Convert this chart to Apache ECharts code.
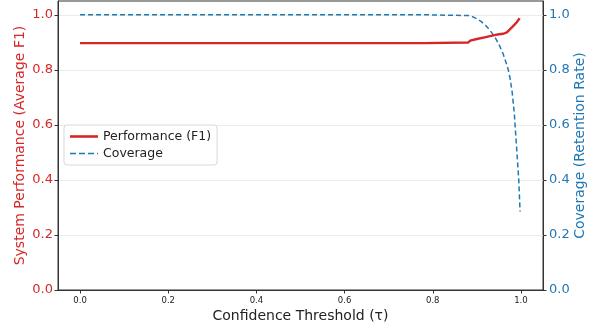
<!DOCTYPE html>
<html>
<head>
<meta charset="utf-8">
<script src="https://cdn.jsdelivr.net/npm/echarts@6/dist/echarts.min.js"></script>
<style>
  html, body { margin: 0; padding: 0; background: #fff; }
  #chart { width: 595px; height: 332px; }
</style>
</head>
<body>
<div id="chart"></div>
<script>
// Confidence thresholds and the two measured curves
const perfThreshold = [0.0, 0.78, 0.781, 0.88, 0.885, 0.9, 0.92, 0.94, 0.95, 0.96, 0.968, 0.98, 0.99, 0.997];
const perfF1        = [0.897, 0.897, 0.899, 0.899, 0.906, 0.912, 0.919, 0.926, 0.929, 0.931, 0.936, 0.955, 0.972, 0.987];

const covThreshold  = [0.0, 0.78, 0.781, 0.88, 0.89, 0.90, 0.91, 0.92, 0.93, 0.94, 0.95, 0.96, 0.97, 0.975, 0.98, 0.985, 0.99, 0.995, 0.998];
const coverage      = [1.0, 1.0, 0.997, 0.997, 0.993, 0.985, 0.975, 0.961, 0.943, 0.921, 0.893, 0.856, 0.808, 0.772, 0.72, 0.64, 0.52, 0.40, 0.285];

const xTicks = [0.0, 0.2, 0.4, 0.6, 0.8, 1.0];
const yTicks = [0.0, 0.2, 0.4, 0.6, 0.8, 1.0];

const RED = '#d62728';
const BLUE = '#1f77b4';
const FONT = 'DejaVu Sans';

const zip = (xs, ys) => xs.map((x, i) => [x, ys[i]]);

const yAxisBase = (color, pos, name) => ({
  type: 'value',
  position: pos,
  min: 0,
  max: 1.05,
  name: name,
  nameLocation: 'middle',
  nameMoveOverlap: false,
  nameGap: pos === 'left' ? 31 : 30,
  nameTextStyle: { color: color, fontFamily: FONT, fontSize: 14 },
  axisLine: { show: true, onZero: false, lineStyle: { color: '#333', width: 1 } },
  axisTick: { show: true, length: 3.5, lineStyle: { color: '#333' }, customValues: yTicks },
  axisLabel: {
    color: color, fontFamily: FONT, fontSize: 13, margin: pos === 'left' ? 5 : 6,
    customValues: yTicks,
    formatter: v => v.toFixed(1)
  },
  splitLine: { show: pos === 'left', lineStyle: { color: '#ebebeb', width: 1 } }
});

const chart = echarts.init(document.getElementById('chart'), null, { renderer: 'canvas' });
chart.setOption({
  animation: false,
  backgroundColor: '#fff',
  grid: {
    left: 58, right: 52, top: 1, bottom: 42,
    outerBoundsMode: 'none',
    containLabel: false,
    show: true, borderColor: '#333', borderWidth: 1, backgroundColor: 'transparent'
  },
  legend: {
    left: 64, top: 125,
    orient: 'vertical',
    backgroundColor: '#fff',
    borderColor: '#d9d9d9',
    borderWidth: 1,
    borderRadius: 3,
    padding: [5, 6, 5, 6],
    itemGap: 4,
    itemWidth: 28,
    itemHeight: 10,
    textStyle: { color: '#222', fontFamily: FONT, fontSize: 12.5 },
    data: [
      { name: 'Performance (F1)', icon: 'path://M0,3.7 L28,3.7 L28,6.3 L0,6.3 Z' },
      { name: 'Coverage', icon: 'path://M0,4.3 L6,4.3 L6,5.7 L0,5.7 Z M9,4.3 L15,4.3 L15,5.7 L9,5.7 Z M18,4.3 L24,4.3 L24,5.7 L18,5.7 Z M27,4.3 L28,4.3 L28,5.7 L27,5.7 Z' }
    ]
  },
  xAxis: {
    type: 'value',
    min: -0.05,
    max: 1.05,
    name: 'Confidence Threshold (τ)',
    nameLocation: 'middle',
    nameMoveOverlap: false,
    nameGap: 19,
    nameTextStyle: { color: '#222', fontFamily: FONT, fontSize: 14 },
    axisLine: { show: true, onZero: false, lineStyle: { color: '#333' } },
    axisTick: { show: true, length: 3.5, lineStyle: { color: '#333' }, customValues: xTicks },
    axisLabel: {
      color: '#222', fontFamily: FONT, fontSize: 8.5, margin: 6,
      customValues: xTicks,
      formatter: v => v.toFixed(1)
    },
    splitLine: { show: false }
  },
  yAxis: [
    yAxisBase(RED, 'left', 'System Performance (Average F1)'),
    yAxisBase(BLUE, 'right', 'Coverage (Retention Rate)')
  ],
  series: [
    {
      name: 'Performance (F1)',
      type: 'line',
      yAxisIndex: 0,
      data: zip(perfThreshold, perfF1),
      symbol: 'none',
      color: RED,
      lineStyle: { color: RED, width: 2.4 },
      z: 3
    },
    {
      name: 'Coverage',
      type: 'line',
      yAxisIndex: 1,
      data: zip(covThreshold, coverage),
      symbol: 'none',
      color: BLUE,
      lineStyle: { color: BLUE, width: 1.5, type: [5, 3] },
      z: 2
    }
  ]
});
</script>
</body>
</html>
